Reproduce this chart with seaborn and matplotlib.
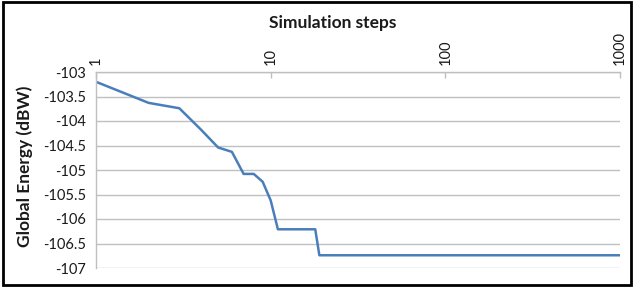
import numpy as np
import pandas as pd
import seaborn as sns
import matplotlib
matplotlib.use("Agg")
import matplotlib.pyplot as plt
from matplotlib.patches import Rectangle
from matplotlib.ticker import FixedLocator, NullLocator, FixedFormatter

# values
steps = [1, 2, 3, 4, 5, 6, 7, 8, 9, 10, 11, 12, 13, 14, 15, 16, 17, 18, 19, 1000]
energy = [-103.2, -103.63, -103.74, -104.18, -104.54, -104.63, -105.08, -105.08,
          -105.24, -105.62, -106.21, -106.21, -106.21, -106.21, -106.21, -106.21,
          -106.21, -106.21, -106.74, -106.74]
x_ticks = [1, 10, 100, 1000]
x_labels = ["1", "10", "100", "1000"]
y_ticks = [-107, -106.5, -106, -105.5, -105, -104.5, -104, -103.5, -103]
y_labels = ["-107", "-106.5", "-106", "-105.5", "-105", "-104.5", "-104", "-103.5", "-103"]

df = pd.DataFrame({"step": steps, "energy": energy})

sns.set_theme(style="white")
plt.rcParams["font.family"] = ["Lato", "DejaVu Sans"]

fig = plt.figure(figsize=(6.34, 2.87), dpi=100)
ax = fig.add_axes([96 / 634, 1 - 268 / 287, 524 / 634, 196 / 287])

sns.lineplot(data=df, x="step", y="energy", ax=ax, color="#4A7EBB",
             linewidth=1.8, legend=False)

ax.set_xscale("log")
ax.set_xlim(1, 1000)
ax.set_ylim(-107, -103)

ax.xaxis.set_major_locator(FixedLocator(x_ticks))
ax.xaxis.set_major_formatter(FixedFormatter(x_labels))
ax.xaxis.set_minor_locator(NullLocator())
ax.xaxis.tick_top()
ax.tick_params(axis="x", which="major", direction="in", length=4, width=1,
               color="#BFBFBF", labelsize=10.5, labelrotation=90, pad=5,
               labelcolor="#1a1a1a", top=True, bottom=False)

ax.set_yticks(y_ticks)
ax.set_yticklabels(y_labels)
ax.tick_params(axis="y", length=0, labelsize=10.5, pad=7, labelcolor="#1a1a1a")

ax.grid(axis="y", color="#C0C0C0", linewidth=1)
ax.grid(axis="x", visible=False)

for side in ["right", "bottom"]:
    ax.spines[side].set_visible(False)
for side in ["left", "top"]:
    ax.spines[side].set_color("#BFBFBF")
    ax.spines[side].set_linewidth(1)

ax.set_xlabel("")
ax.set_ylabel("")
fig.text(333 / 634, 1 - 23 / 287, "Simulation steps", fontsize=12.5, fontweight="bold",
         ha="center", va="center", color="#1a1a1a")
fig.text(25 / 634, 1 - 166 / 287, "Global Energy (dBW)", fontsize=12.5, fontweight="bold",
         ha="center", va="center", rotation=90, color="#1a1a1a")

fig.patches.append(Rectangle((0.004, 0.006), 0.992, 0.988, transform=fig.transFigure,
                             fill=False, edgecolor="black", linewidth=2))

fig.savefig("out.png", dpi=100)
